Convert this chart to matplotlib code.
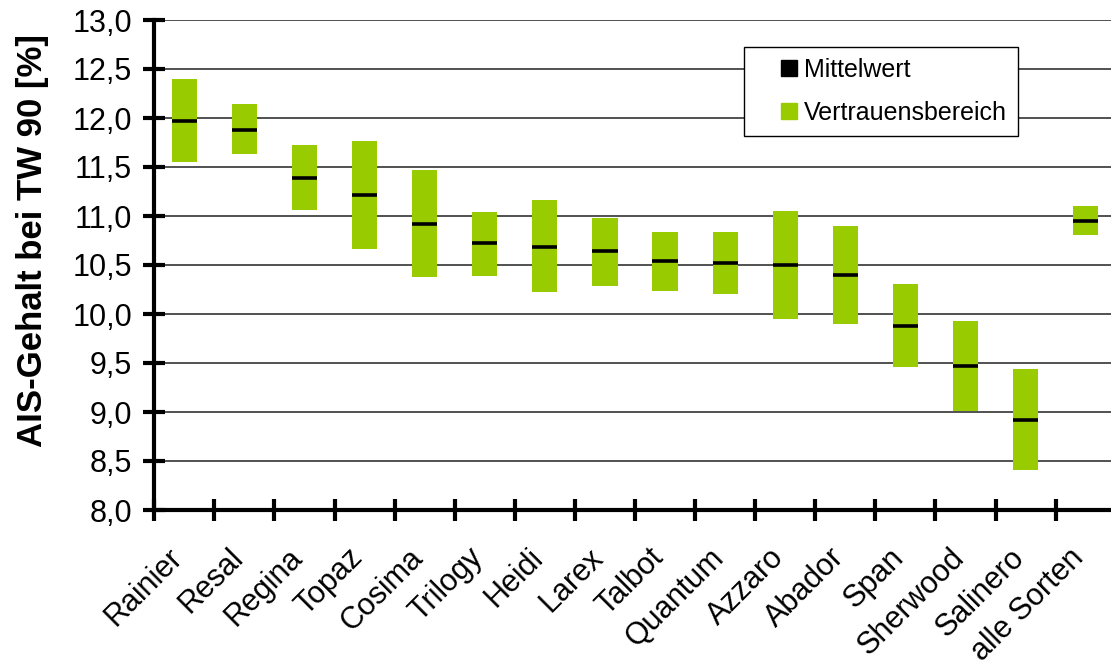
import numpy as np
import matplotlib.pyplot as plt
import matplotlib.transforms as mtransforms
from matplotlib.patches import Patch, Rectangle
from matplotlib.legend_handler import HandlerPatch

plt.rcParams['font.family'] = ['Liberation Sans', 'DejaVu Sans']

# Sorten und Werte
sorten = ['Rainier', 'Resal', 'Regina', 'Topaz', 'Cosima', 'Trilogy', 'Heidi', 'Larex',
          'Talbot', 'Quantum', 'Azzaro', 'Abador', 'Span', 'Sherwood', 'Salinero', 'alle Sorten']
mittelwert = [11.97, 11.88, 11.39, 11.21, 10.92, 10.72, 10.68, 10.64,
              10.54, 10.52, 10.50, 10.40, 9.88, 9.47, 8.92, 10.95]
vb_unten = [11.55, 11.63, 11.06, 10.66, 10.38, 10.39, 10.22, 10.29,
            10.23, 10.20, 9.95, 9.90, 9.46, 9.01, 8.41, 10.81]
vb_oben = [12.40, 12.14, 11.72, 11.77, 11.47, 11.04, 11.16, 10.98,
           10.84, 10.84, 11.05, 10.90, 10.31, 9.93, 9.44, 11.10]

gruen = '#99CC00'
x = np.arange(len(sorten))
breite = 0.42

fig = plt.figure(figsize=(11.11, 6.68), dpi=100)
ax = fig.add_axes([154.3 / 1111, 158 / 668, 961.4 / 1111, 490 / 668])

hoehe = np.array(vb_oben) - np.array(vb_unten)
ax.bar(x, hoehe, bottom=vb_unten, width=breite, color=gruen, zorder=2)
ax.hlines(mittelwert, x - breite / 2, x + breite / 2, colors='black', lw=2.6, zorder=3)

ax.set_xlim(-0.5, 15.5)
ax.set_ylim(8.0, 13.0)
yt = np.arange(8.0, 13.01, 0.5)
ax.set_yticks(yt)
ax.set_yticklabels([f'{v:.1f}'.replace('.', ',') for v in yt], fontsize=22)
ax.set_xticks(np.arange(-0.5, 15.6, 1.0))
ax.set_xticklabels([])
ax.set_xticks(x, minor=True)
ax.set_xticklabels(sorten, minor=True, rotation=45, ha='right', va='center',
                   rotation_mode='anchor', fontsize=22)
ax.tick_params(axis='x', which='minor', length=0, pad=31)
ax.tick_params(axis='both', which='major', direction='inout', length=16, width=3, color='black')
ax.tick_params(axis='y', pad=8)

versatz = mtransforms.ScaledTranslation(-6 / 100, 0, fig.dpi_scale_trans)
for lab in ax.get_xticklabels(minor=True):
    lab.set_transform(lab.get_transform() + versatz)

ax.yaxis.grid(True, color='#333333', lw=1.2, zorder=0)
ax.set_axisbelow(True)
for s in ['top', 'right']:
    ax.spines[s].set_visible(False)
for s in ['left', 'bottom']:
    ax.spines[s].set_linewidth(3)

ax.set_ylabel('AIS-Gehalt bei TW 90 [%]', fontsize=25, fontweight='bold')
ax.yaxis.set_label_coords(-0.110, 0.551)


def quadrat(legend, orig_handle, xdescent, ydescent, width, height, fontsize):
    s = 16 / 100 * 72
    return Rectangle((width - s - xdescent, height / 2 - s / 2 - ydescent), s, s)


handles = [Patch(color='black', label='Mittelwert'), Patch(color=gruen, label='Vertrauensbereich')]
leg = ax.legend(handles=handles, loc='upper left', bbox_to_anchor=(0.613, 0.945), fontsize=18,
                handler_map={Patch: HandlerPatch(patch_func=quadrat)},
                handlelength=1.7, handleheight=0.7, handletextpad=0.25, labelspacing=0.75,
                borderpad=0.45, borderaxespad=0, fancybox=False, framealpha=1, edgecolor='black')
leg.get_frame().set_linewidth(1)

fig.savefig('out.png', dpi=100)
